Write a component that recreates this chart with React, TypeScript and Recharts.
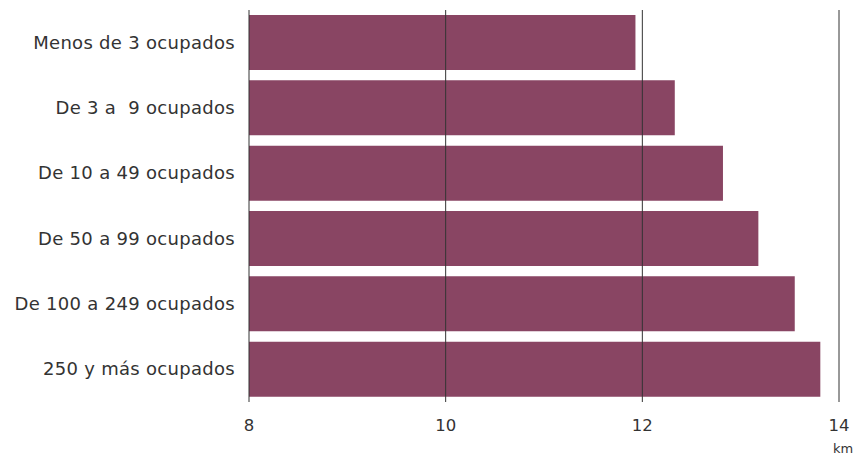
import { Bar, BarChart, ReferenceLine, XAxis, YAxis } from "recharts";

const categories = [
  "Menos de 3 ocupados",
  "De 3 a  9 ocupados",
  "De 10 a 49 ocupados",
  "De 50 a 99 ocupados",
  "De 100 a 249 ocupados",
  "250 y más ocupados",
];
const distanceKm = [11.93, 12.33, 12.82, 13.18, 13.55, 13.81];
const xTicks = [8, 10, 12, 14];

const data = categories.map((name, i) => ({ name, km: distanceKm[i] }));

const FONT = "'DejaVu Sans', sans-serif";

const XTick = ({ x, y, payload }: any) => (
  <g>
    <text x={x} y={y + 21} textAnchor='middle' fill='#333' fontSize={16.5} fontFamily={FONT}>
      {payload.value}
    </text>
    {payload.value === 14 && (
      <text x={x + 4} y={y + 43} textAnchor='middle' fill='#333' fontSize={13} fontFamily={FONT}>
        km
      </text>
    )}
  </g>
);

const YTick = ({ x, y, payload }: any) => (
  <text
    x={x}
    y={y}
    dy={6}
    textAnchor='end'
    fill='#333'
    fontSize={18}
    fontFamily={FONT}
    letterSpacing={0.3}
    style={{ whiteSpace: "pre" }}>
    {payload.value}
  </text>
);

export default function App() {
  return (
    <div style={{ width: 859, height: 458 }}>
      <style>{"body{margin:0}"}</style>
      <BarChart
        width={859}
        height={458}
        data={data}
        layout='vertical'
        margin={{ top: 10, right: 20, bottom: 26, left: 0 }}
        barCategoryGap={5}>
        <XAxis
          type='number'
          domain={[8, 14]}
          ticks={xTicks}
          allowDataOverflow
          axisLine={false}
          tickLine={false}
          height={30}
          tick={<XTick />}
        />
        <YAxis
          type='category'
          dataKey='name'
          width={249}
          axisLine={false}
          tickLine={false}
          tickMargin={8}
          tick={<YTick />}
        />
        <Bar dataKey='km' fill='#894563' isAnimationActive={false} />
        {xTicks.map((t) => (
          <ReferenceLine key={t} x={t} stroke='#333' strokeWidth={1} />
        ))}
      </BarChart>
    </div>
  );
}
